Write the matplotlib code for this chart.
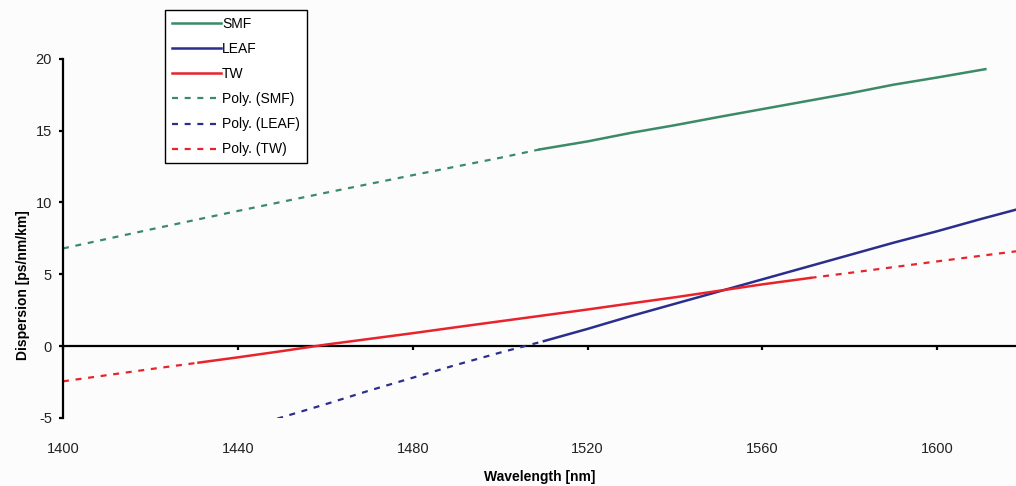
import numpy as np
import matplotlib.pyplot as plt

plt.rcParams['font.family'] = ['Liberation Sans', 'DejaVu Sans']
plt.rcParams['axes.unicode_minus'] = False

# dispersion [ps/nm/km] vs wavelength [nm]
smf_wl = [1509, 1520, 1530, 1540, 1550, 1560, 1570, 1580, 1590, 1600, 1611]
smf_d = [13.69, 14.25, 14.85, 15.38, 15.95, 16.50, 17.05, 17.60, 18.20, 18.70, 19.28]

leaf_wl = [1510, 1520, 1530, 1540, 1550, 1560, 1570, 1580, 1590, 1600, 1610, 1618]
leaf_d = [0.35, 1.20, 2.10, 2.95, 3.80, 4.65, 5.50, 6.35, 7.20, 8.00, 8.85, 9.50]

tw_wl = [1431, 1440, 1450, 1460, 1470, 1480, 1490, 1500, 1510, 1520, 1530, 1540, 1550, 1560, 1571]
tw_d = [-1.15, -0.78, -0.35, 0.10, 0.50, 0.90, 1.32, 1.73, 2.14, 2.55, 2.98, 3.40, 3.85, 4.30, 4.75]

# polynomial trend lines (only the visible dotted parts, nan = hidden under data)
smf_fit_wl = [1400, 1420, 1440, 1460, 1480, 1500, 1509]
smf_fit_d = [6.80, 8.12, 9.41, 10.67, 11.90, 13.11, 13.69]

leaf_fit_wl = [1449, 1460, 1470, 1480, 1490, 1500, 1510]
leaf_fit_d = [-5.05, -4.05, -3.10, -2.20, -1.30, -0.45, 0.35]

tw_fit_wl = [1400, 1420, 1431, 1500, 1571, 1580, 1600, 1618]
tw_fit_d = [-2.45, -1.60, -1.15, np.nan, 4.75, 5.10, 5.90, 6.60]

x_ticks = [1400, 1440, 1480, 1520, 1560, 1600]
y_ticks = [-5, 0, 5, 10, 15, 20]

c_smf = '#3b8a68'
c_leaf = '#2b2e8c'
c_tw = '#e8232c'
dots = (0, (2.7, 3.0))

fig = plt.figure(figsize=(10.16, 4.86), dpi=100)
fig.patch.set_facecolor('#fdfcfc')
ax = fig.add_axes([0.062, 0.140, 0.938, 0.739])
ax.set_facecolor('none')

ax.plot(smf_wl, smf_d, color=c_smf, lw=1.8, label='SMF', zorder=3)
ax.plot(leaf_wl, leaf_d, color=c_leaf, lw=1.8, label='LEAF', zorder=3)
ax.plot(tw_wl, tw_d, color=c_tw, lw=1.8, label='TW', zorder=3)
ax.plot(smf_fit_wl, smf_fit_d, color=c_smf, lw=1.6, ls=dots, label='Poly. (SMF)', zorder=2)
ax.plot(leaf_fit_wl, leaf_fit_d, color=c_leaf, lw=1.6, ls=dots, label='Poly. (LEAF)', zorder=2)
ax.plot(tw_fit_wl, tw_fit_d, color=c_tw, lw=1.6, ls=dots, label='Poly. (TW)', zorder=2)

ax.set_xlim(1400, 1618)
ax.set_ylim(-5, 20)

for s in ['top', 'right', 'bottom']:
    ax.spines[s].set_visible(False)
ax.spines['left'].set_linewidth(1.6)

ax.set_yticks(y_ticks)
ax.tick_params(axis='y', direction='out', length=3, width=1.6, pad=5,
               labelsize=10.5, labelcolor='#222222')
ax.set_xticks(x_ticks)
ax.tick_params(axis='x', length=0, pad=17, labelsize=10.5, labelcolor='#222222')

# zero line with the tick marks (horizontal axis crosses at 0)
sec = ax.secondary_xaxis(0.2)
sec.set_xticks(x_ticks)
sec.tick_params(direction='out', length=3, width=1.6, labelbottom=False)
sec.spines['bottom'].set_linewidth(1.6)

ax.set_xlabel('Wavelength [nm]', fontsize=10, fontweight='bold')
ax.xaxis.set_label_coords(0.5, -0.145)
ax.set_ylabel('Dispersion [ps/nm/km]', fontsize=10, fontweight='bold')
ax.yaxis.set_label_coords(-0.035, 0.37)

leg = ax.legend(loc='upper left', bbox_to_anchor=(165 / 1016, 1 - 10 / 486),
                bbox_transform=fig.transFigure, borderaxespad=0, fontsize=10,
                handlelength=3.5, handletextpad=0.1, labelspacing=0.8,
                borderpad=0.5, fancybox=False, framealpha=1)
leg.get_frame().set_edgecolor('black')
leg.get_frame().set_linewidth(1.0)

fig.savefig('out.png', dpi=100, facecolor=fig.get_facecolor())
